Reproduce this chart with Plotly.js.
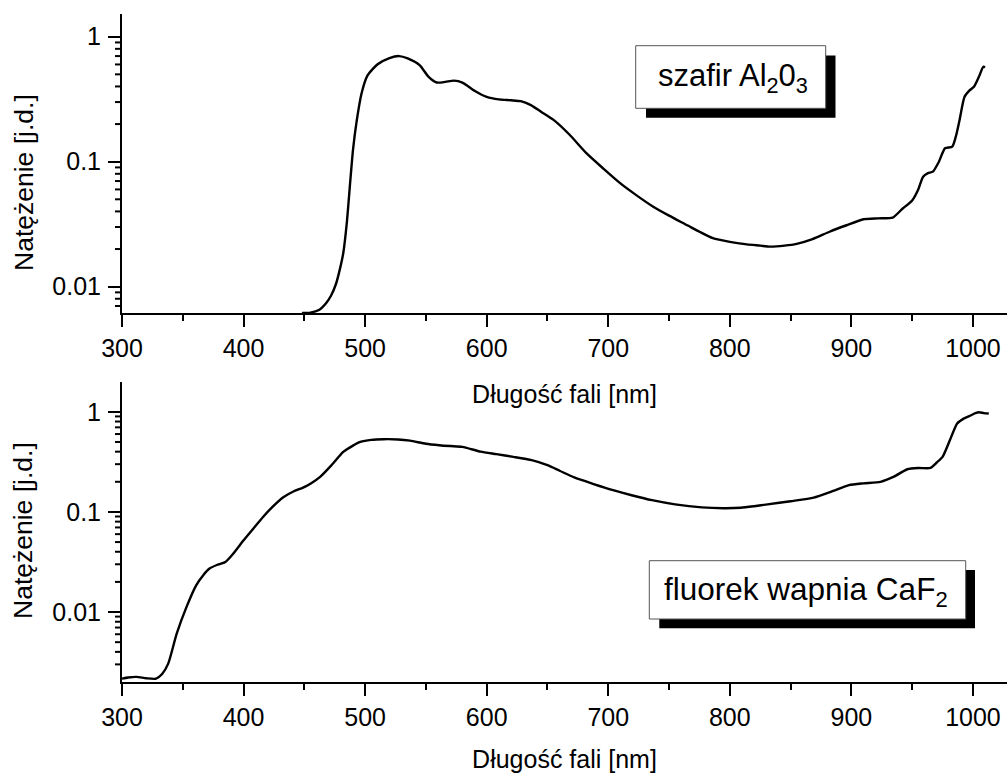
<!DOCTYPE html>
<html>
<head>
<meta charset="utf-8">
<script src="https://cdn.plot.ly/plotly-3.0.1.min.js"></script>
<style>html,body{margin:0;padding:0;background:#fff;}#chart{width:1007px;height:774px;}</style>
</head>
<body>
<div id="chart"></div>
<script>
// ---- data: sapphire (Al2O3) ----
const sapphireWavelength = [448,455,462,468,472,476,479,482,485,487.5,490,493,497,502,510,520,528,535,545,552,559,566,573,580,590,600,610,620,628,636,645,655,668,682,696,710,723,737,750,765,775,786,800,814,825,833,845,855,868,882,896,910,922,934,942,950,955,959,963,967,972,977,983,986,989,993,997,1001,1005,1008.5,1010];
const sapphireIntensity = [0.00615,0.0062,0.0065,0.0074,0.0085,0.0105,0.0135,0.0185,0.033,0.065,0.124,0.21,0.35,0.49,0.60,0.675,0.70,0.67,0.59,0.48,0.43,0.435,0.445,0.43,0.37,0.33,0.315,0.31,0.305,0.285,0.25,0.216,0.165,0.117,0.088,0.067,0.054,0.0436,0.037,0.031,0.0275,0.0244,0.0228,0.0218,0.0213,0.0209,0.0213,0.022,0.024,0.0275,0.031,0.0346,0.0352,0.0357,0.042,0.049,0.060,0.0759,0.081,0.0832,0.10,0.128,0.132,0.16,0.216,0.33,0.37,0.40,0.48,0.575,0.57];

// ---- data: calcium fluoride (CaF2) ----
const fluorideWavelength = [300,305,312,320,328,333,338,345,353,361,367,372,378,385,392,400,408,416,424,433,441,449,456,463,472,482,490,496,505,515,527,537,550,561,570,580,595,608,622,637,650,660,672,688,704,720,736,755,777,795,809,820,831,850,869,885,898,910,924,935,946,955,965,970,975,981,987,992,997,1002,1005,1009,1013];
const fluorideIntensity = [0.00216,0.00222,0.00225,0.00218,0.00216,0.0024,0.00305,0.00608,0.0112,0.0185,0.0235,0.0272,0.0295,0.0316,0.039,0.052,0.068,0.089,0.113,0.141,0.16,0.175,0.195,0.224,0.29,0.398,0.46,0.50,0.525,0.533,0.53,0.515,0.48,0.464,0.455,0.447,0.40,0.378,0.355,0.329,0.293,0.258,0.221,0.19,0.165,0.146,0.131,0.119,0.111,0.109,0.11,0.114,0.119,0.128,0.139,0.162,0.185,0.193,0.20,0.225,0.267,0.275,0.275,0.31,0.355,0.52,0.765,0.85,0.906,0.97,0.99,0.97,0.963];

// ---- labels ----
const xTitle = "Długość fali [nm]";
const yTitle = "Natężenie [j.d.]";
const yTickVals = [0.01, 0.1, 1];
const yTickText = ["0.01", "0.1", "1"];
const minorDigits = [2, 3, 4, 5, 6, 7, 8, 9];
const minorDecades = [0.001, 0.01, 0.1, 1];
const label1 = "szafir Al<sub>2</sub>0<sub>3</sub>";
const label2 = "fluorek wapnia CaF<sub>2</sub>";

// ---- geometry helpers (pixels -> paper) ----
const W = 1007, H = 774, ML = 122, MR = 0, MT = 14, MB = 92;
const PW = W - ML - MR, PH = H - MT - MB;
const px = x => (x - ML) / PW;
const py = y => (H - MB - y) / PH;
const X_RANGE = [300, 1028];

const FONT = "Liberation Sans, Arial, Helvetica, sans-serif";

const lineStyle = {color: "black", width: 2.4, shape: "spline", smoothing: 0.6};
const traces = [
  {x: sapphireWavelength, y: sapphireIntensity, type: "scatter", mode: "lines", line: lineStyle, xaxis: "x", yaxis: "y", hoverinfo: "x+y"},
  {x: fluorideWavelength, y: fluorideIntensity, type: "scatter", mode: "lines", line: lineStyle, xaxis: "x2", yaxis: "y2", hoverinfo: "x+y"}
];

function xAxis(anchor, standoff) {
  return {
    anchor: anchor, domain: [0, 1], range: X_RANGE,
    showline: true, linecolor: "black", linewidth: 2, mirror: false,
    showgrid: false, zeroline: false,
    ticks: "outside", ticklen: 12, tickwidth: 2, tickcolor: "black",
    tickmode: "linear", tick0: 300, dtick: 100,
    minor: {ticks: "outside", ticklen: 6, tickwidth: 2, tickcolor: "black", tickmode: "linear", tick0: 300, dtick: 50, showgrid: false},
    tickfont: {family: FONT, size: 25, color: "black"},
    title: {text: xTitle, font: {family: FONT, size: 25, color: "black"}, standoff: standoff},
    automargin: false
  };
}
function yAxis(anchor, domain, range) {
  return {
    anchor: anchor, domain: domain, type: "log", range: range,
    showline: true, linecolor: "black", linewidth: 2,
    showgrid: false, zeroline: false,
    ticks: "outside", ticklen: 12, tickwidth: 2, tickcolor: "black",
    tickmode: "array", tickvals: yTickVals, ticktext: yTickText,
    tickfont: {family: FONT, size: 25, color: "black"},
    ticklabelstandoff: 2,
    automargin: false
  };
}

const topRange = [Math.log10(0.00612), Math.log10(1.52)];
const botRange = [Math.log10(0.002), Math.log10(2.0)];

// short minor ticks of the log axes (2..9 of each decade)
function minorValues(range) {
  const out = [];
  minorDecades.forEach(d => minorDigits.forEach(k => {
    const lv = Math.log10(k * d);
    if (lv > range[0] + 1e-6 && lv < range[1] - 1e-6) out.push(k * d);
  }));
  return out;
}
const minorTicks = [];
function addMinorTicks(yref, range) {
  minorValues(range).forEach(v => {
    const f = (Math.log10(v) - range[0]) / (range[1] - range[0]);
    minorTicks.push({type: "line", xref: "paper", yref: yref + " domain", x0: px(115), x1: px(122), y0: f, y1: f, line: {color: "black", width: 2}, layer: "above"});
  });
}
addMinorTicks("y", topRange);
addMinorTicks("y2", botRange);

// the same minor ticks also as short dash markers just left of the axis line
const tickX = X_RANGE[0] - 3.5 * (X_RANGE[1] - X_RANGE[0]) / PW;
[["x", "y", topRange], ["x2", "y2", botRange]].forEach(([xa, ya, r]) => {
  const vals = minorValues(r);
  traces.push({x: vals.map(() => tickX), y: vals, type: "scatter", mode: "markers", xaxis: xa, yaxis: ya, cliponaxis: false, hoverinfo: "skip",
    marker: {symbol: "line-ew", size: 5, color: "black", line: {color: "black", width: 2}}});
});

const layout = {
  width: W, height: H,
  margin: {l: ML, r: MR, t: MT, b: MB},
  paper_bgcolor: "white", plot_bgcolor: "white",
  showlegend: false,
  font: {family: FONT, color: "black"},
  xaxis: xAxis("y", 24),
  yaxis: yAxis("x", [py(313.3), 1], topRange),
  xaxis2: xAxis("y2", 20),
  yaxis2: yAxis("x2", [0, py(381.7)], botRange),
  shapes: minorTicks.concat([
    {type: "rect", xref: "paper", yref: "paper", x0: px(646), x1: px(835.5), y0: py(117.7), y1: py(55.5), fillcolor: "black", line: {width: 0}},
    {type: "rect", xref: "paper", yref: "paper", x0: px(635.7), x1: px(825.7), y0: py(108.3), y1: py(45.7), fillcolor: "white", line: {color: "#555", width: 1}},
    {type: "rect", xref: "paper", yref: "paper", x0: px(659.3), x1: px(975), y0: py(628.3), y1: py(570), fillcolor: "black", line: {width: 0}},
    {type: "rect", xref: "paper", yref: "paper", x0: px(649.3), x1: px(965.7), y0: py(619), y1: py(560.7), fillcolor: "white", line: {color: "#555", width: 1}}
  ]),
  annotations: [
    {text: label1, xref: "paper", yref: "paper", x: px(733), y: py(78), xanchor: "center", yanchor: "middle", showarrow: false, font: {family: FONT, size: 31, color: "black"}},
    {text: label2, xref: "paper", yref: "paper", x: px(806), y: py(591), xanchor: "center", yanchor: "middle", showarrow: false, font: {family: FONT, size: 31.5, color: "black"}},
    {text: yTitle, xref: "paper", yref: "paper", x: px(24), y: py(183), xanchor: "center", yanchor: "middle", textangle: -90, showarrow: false, font: {family: FONT, size: 26.5, color: "black"}},
    {text: yTitle, xref: "paper", yref: "paper", x: px(23), y: py(531), xanchor: "center", yanchor: "middle", textangle: -90, showarrow: false, font: {family: FONT, size: 26.5, color: "black"}}
  ]
};

Plotly.newPlot("chart", traces, layout, {displayModeBar: false, staticPlot: true});
</script>
</body>
</html>
